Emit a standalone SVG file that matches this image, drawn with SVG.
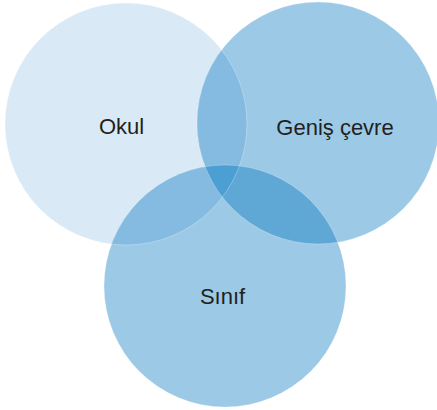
<svg xmlns="http://www.w3.org/2000/svg" width="437" height="410" viewBox="0 0 437 410">
<style>
.lbl{font-family:"Liberation Sans",Arial,sans-serif;font-size:22px;fill:#231f20;text-anchor:middle}
.edge{fill:none;stroke:#ffffff;stroke-opacity:0.35;stroke-width:0.8}
</style>
<defs>
<clipPath id="cO"><circle cx="126" cy="124" r="121"/></clipPath>
<clipPath id="cG"><circle cx="318" cy="123" r="121"/></clipPath>
<clipPath id="cS"><circle cx="225" cy="286" r="121"/></clipPath>
</defs>
<rect width="437" height="410" fill="#ffffff"/>
<g id="okul">
<circle cx="126" cy="124" r="121" fill="#d9eaf6"/>
</g>
<g id="genis-cevre">
<circle cx="318" cy="123" r="121" fill="#9bc9e6"/>
</g>
<g id="sinif">
<circle cx="225" cy="286" r="121" fill="#9bc9e6"/>
</g>
<g id="overlaps">
<g clip-path="url(#cO)"><circle cx="318" cy="123" r="121" fill="#85bbe0"/></g>
<g clip-path="url(#cO)"><circle cx="225" cy="286" r="121" fill="#85bbe0"/></g>
<g clip-path="url(#cG)"><circle cx="225" cy="286" r="121" fill="#5fa8d6"/></g>
<g clip-path="url(#cG)"><g clip-path="url(#cO)"><circle cx="225" cy="286" r="121" fill="#4c9fd2"/></g></g>
<circle class="edge" cx="126" cy="124" r="121"/>
<circle class="edge" cx="318" cy="123" r="121"/>
<circle class="edge" cx="225" cy="286" r="121"/>
</g>
<text class="lbl" x="121.5" y="134">Okul</text>
<text class="lbl" x="335" y="135">Geniş çevre</text>
<text class="lbl" x="222.5" y="304">Sınıf</text>
</svg>
